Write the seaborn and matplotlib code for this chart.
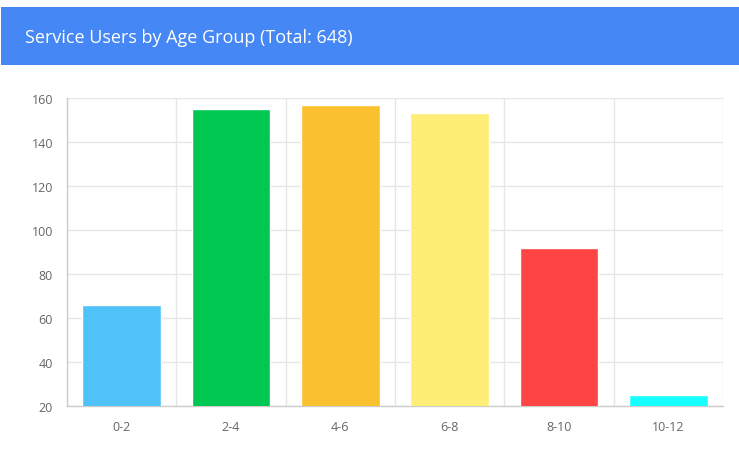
import numpy as np
import pandas as pd
import matplotlib
matplotlib.use('Agg')
import matplotlib.pyplot as plt
import seaborn as sns
from matplotlib.patches import Rectangle

sns.set_style('white')
plt.rcParams['font.family'] = ['Open Sans', 'DejaVu Sans']

# data
age_groups = ['0-2', '2-4', '4-6', '6-8', '8-10', '10-12']
users = [66, 155, 157, 153, 92, 25]
bar_colors = ['#4FC3F7', '#00C853', '#FBC02D', '#FFEE75', '#FF4444', '#18FFFF']
y_ticks = [20, 40, 60, 80, 100, 120, 140, 160]

df = pd.DataFrame({'age': age_groups, 'users': users})
total = sum(users)

fig = plt.figure(figsize=(7.39, 4.64), dpi=100)
fig.patch.set_facecolor('white')

# blue header band
fig.patches.append(Rectangle((1 / 739, 1 - 66 / 464), 738 / 739, 58 / 464,
                             transform=fig.transFigure, facecolor='#4587F5',
                             edgecolor='none', zorder=0))
fig.text(25 / 739, 1 - 38 / 464, f'Service Users by Age Group (Total: {total})',
         color='white', fontsize=13, va='center', ha='left')

ax = fig.add_axes([67 / 739, 1 - 407 / 464, 656 / 739, 308 / 464])
sns.barplot(data=df, x='age', y='users', hue='age', palette=bar_colors,
            width=0.72, legend=False, ax=ax, saturation=1, zorder=3)

ax.set_ylim(20, 160)
ax.set_xlim(-0.5, len(age_groups) - 0.5)
ax.set_yticks(y_ticks)
ax.set_xlabel('')
ax.set_ylabel('')

# ticks at category boundaries, labels at centers
ax.set_xticks(np.arange(len(age_groups) + 1) - 0.5)
ax.set_xticklabels([])
ax.set_xticks(np.arange(len(age_groups)), minor=True)
ax.set_xticklabels(age_groups, minor=True)
ax.tick_params(axis='x', which='major', length=8, color='#dddddd', width=1)
ax.tick_params(axis='x', which='minor', length=0, pad=10, labelsize=9, labelcolor='#666666')
ax.tick_params(axis='y', length=8, color='#dddddd', width=1, labelsize=9,
               labelcolor='#666666', pad=2)

ax.grid(True, which='major', color='#e6e6e6', linewidth=1, zorder=0)
for side in ['top', 'right']:
    ax.spines[side].set_visible(False)
for side in ['left', 'bottom']:
    ax.spines[side].set_color('#cccccc')
    ax.spines[side].set_linewidth(1)

plt.savefig('out.png', dpi=100)
